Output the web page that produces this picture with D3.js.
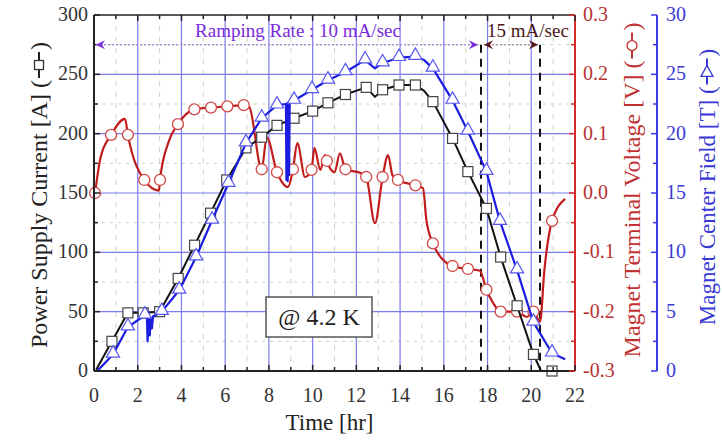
<!DOCTYPE html>
<meta charset="utf-8">
<script src="https://d3js.org/d3.v7.min.js"></script>
<style type="text/css">
body { margin: 0; background: #fff; }
svg { display: block; font-family: "Liberation Serif", "Times New Roman", serif; }
</style>
<body>
</body>
<script>

// current [A] vs time [hr]; third value = marker drawn (1) or not (0)
var currentData = [
  [0.1, 1, 0], [0.82, 25, 1], [1.55, 49, 1], [2.25, 49, 1], [3.0, 50, 1],
  [3.85, 78, 1], [4.6, 106, 1], [5.33, 133, 1], [6.07, 161, 1], [6.95, 188, 1],
  [7.67, 197, 1], [8.37, 207, 1], [9.15, 213, 1], [10.0, 219, 1], [10.7, 226, 1],
  [11.5, 233, 1], [12.45, 239, 1], [12.85, 231, 0], [13.2, 237, 1], [13.95, 241, 1],
  [14.7, 241, 1], [15.1, 236, 0], [15.5, 227, 1], [16.4, 196, 1], [17.1, 168, 1],
  [17.95, 137, 1], [18.6, 96, 1], [19.35, 55, 1], [20.1, 14, 1], [20.45, 0, 0],
  [20.95, 0, 1]
];

// magnet center field [T]
var fieldData = [
  [0.15, 0, 0], [0.87, 1.4, 1], [1.55, 3.7, 1], [2.33, 4.7, 1],
  [2.42, 4.6, 0], [2.45, 2.5, 0], [2.5, 4.4, 0], [2.55, 3.0, 0], [2.6, 4.5, 0], [2.65, 3.6, 0], [2.7, 4.6, 0],
  [3.1, 5.0, 1], [3.9, 6.8, 1], [4.67, 9.6, 1], [5.4, 12.7, 1], [6.15, 15.8, 1],
  [6.95, 19.2, 1], [7.67, 21.3, 1], [8.37, 22.4, 1],
  [8.78, 22.5, 0], [8.8, 16.1, 0], [8.84, 22.6, 0], [8.86, 16.0, 0], [8.9, 22.6, 0], [8.92, 16.5, 0], [8.95, 22.7, 0],
  [9.15, 22.8, 1], [9.97, 23.7, 1], [10.7, 24.5, 1], [11.5, 25.2, 1], [12.4, 26.2, 1],
  [12.85, 25.5, 0], [13.2, 25.95, 1], [13.95, 26.4, 1], [14.7, 26.5, 1], [15.1, 26.2, 0],
  [15.5, 25.5, 1], [16.4, 22.8, 1], [17.1, 20.2, 1], [17.95, 16.8, 1], [18.57, 12.6, 1],
  [19.35, 8.5, 1], [20.1, 4.1, 1], [20.95, 1.5, 1], [21.55, 1.0, 0]
];

// magnet terminal voltage [V]
var voltageData = [
  [0.05, 0.0, 1], [0.3, 0.06, 0], [0.78, 0.098, 1], [1.42, 0.125, 0], [1.55, 0.098, 1],
  [2.3, 0.022, 1], [2.97, 0.004, 0], [3.02, 0.022, 1], [3.4, 0.085, 0], [3.84, 0.116, 1],
  [4.59, 0.141, 1], [5.35, 0.144, 1], [6.1, 0.146, 1], [6.85, 0.148, 1], [7.1, 0.145, 0],
  [7.67, 0.04, 1], [7.9, 0.094, 0], [8.37, 0.035, 1], [8.87, 0.01, 0], [9.1, 0.04, 1],
  [9.3, 0.084, 0], [9.65, 0.027, 0], [9.95, 0.039, 1], [10.08, 0.076, 0], [10.35, 0.039, 0],
  [10.57, 0.064, 0], [10.65, 0.054, 1], [11.0, 0.035, 0], [11.25, 0.067, 0], [11.5, 0.04, 1],
  [12.17, 0.034, 0], [12.45, 0.027, 1], [12.85, -0.051, 0], [13.2, 0.027, 1], [13.45, 0.064, 0],
  [13.65, 0.03, 0], [13.9, 0.022, 1], [14.7, 0.013, 1], [15.05, 0.008, 0], [15.2, -0.045, 0],
  [15.5, -0.085, 1], [15.9, -0.11, 0], [16.4, -0.123, 1], [17.1, -0.128, 1], [17.65, -0.131, 0],
  [17.95, -0.163, 1], [18.25, -0.185, 0], [18.6, -0.2, 1], [19.35, -0.2, 1], [19.8, -0.209, 0],
  [20.1, -0.2, 1], [20.4, -0.217, 0], [20.6, -0.13, 0], [20.95, -0.047, 1], [21.55, -0.01, 0]
];

var xTicks = [0, 2, 4, 6, 8, 10, 12, 14, 16, 18, 20, 22];
var currentTicks = [0, 50, 100, 150, 200, 250, 300];
var voltageTicks = [-0.3, -0.2, -0.1, 0.0, 0.1, 0.2, 0.3];
var fieldTicks = [0, 5, 10, 15, 20, 25, 30];

// ramp rate annotation: boundaries [hr], arrow level [A], labels
var rampBreaks = [0, 17.7, 20.4];
var rampLevel = 275;
var rampLabels = ["Ramping Rate : 10 mA/sec", "15 mA/sec"];
var tempLabel = "@ 4.2 K";

var width = 722, height = 443;
var pL = 94, pR = 575, pT = 15, pB = 371;

var svg = d3.select("body").append("svg")
  .attr("width", width)
  .attr("height", height);

var x = d3.scaleLinear().domain([0, 22]).range([pL, pR]);
var yA = d3.scaleLinear().domain([0, 300]).range([pB, pT]);
var yV = d3.scaleLinear().domain([-0.3, 0.3]).range([pB, pT]);
var yT = d3.scaleLinear().domain([0, 30]).range([pB, pT]);

var RED = "#c21d1d", BLUE = "#1c1ce0", GRID = "#7b7bf0";

// minor grid
var grid = svg.append("g");
grid.selectAll(".vminor").data(d3.range(1, 22, 2)).enter().append("line")
  .attr("x1", d => x(d)).attr("x2", d => x(d))
  .attr("y1", pT).attr("y2", pB)
  .attr("stroke", "#c9d8bd").attr("stroke-dasharray", "5,6").attr("stroke-width", 1);
grid.selectAll(".hminor").data(d3.range(25, 300, 50)).enter().append("line")
  .attr("x1", pL).attr("x2", pR)
  .attr("y1", d => yA(d)).attr("y2", d => yA(d))
  .attr("stroke", "#c9d8bd").attr("stroke-dasharray", "3,5").attr("stroke-width", 1);
// major grid
grid.selectAll(".vmajor").data(xTicks.slice(1, -1)).enter().append("line")
  .attr("x1", d => x(d)).attr("x2", d => x(d))
  .attr("y1", pT).attr("y2", pB)
  .attr("stroke", GRID).attr("stroke-width", 1.2);
grid.selectAll(".hmajor").data(currentTicks.slice(1, -1)).enter().append("line")
  .attr("x1", pL).attr("x2", pR)
  .attr("y1", d => yA(d)).attr("y2", d => yA(d))
  .attr("stroke", GRID).attr("stroke-width", 1.2);

// ramp boundaries
svg.selectAll(".rampLine").data(rampBreaks.slice(1)).enter().append("line")
  .attr("x1", d => x(d)).attr("x2", d => x(d))
  .attr("y1", yA(rampLevel)).attr("y2", pB)
  .attr("stroke", "#111").attr("stroke-width", 2).attr("stroke-dasharray", "8,6");

// series
function drawSeries(data, yScale, lineColor, lineWidth, curve) {
  var line = d3.line().x(d => x(d[0])).y(d => yScale(d[1])).curve(curve);
  svg.append("path").datum(data)
    .attr("d", line)
    .attr("fill", "none")
    .attr("stroke", lineColor)
    .attr("stroke-width", lineWidth)
    .attr("stroke-linejoin", "round");
  return data.filter(d => d[2] === 1);
}

var redMarks = drawSeries(voltageData, yV, RED, 2.2, d3.curveMonotoneX);
svg.selectAll(".vcirc").data(redMarks).enter().append("circle")
  .attr("cx", d => x(d[0])).attr("cy", d => yV(d[1])).attr("r", 5.5)
  .attr("fill", "#fff").attr("stroke", "#d24848").attr("stroke-width", 1.3);

var blackMarks = drawSeries(currentData, yA, "#111", 2, d3.curveLinear);
svg.selectAll(".asq").data(blackMarks).enter().append("rect")
  .attr("x", d => x(d[0]) - 5).attr("y", d => yA(d[1]) - 5)
  .attr("width", 10).attr("height", 10)
  .attr("fill", "#fff").attr("stroke", "#444").attr("stroke-width", 1.2);

var tri = d3.symbol().type(d3.symbolTriangle).size(75);
var blueMarks = drawSeries(fieldData, yT, BLUE, 2.2, d3.curveLinear);
svg.selectAll(".ttri").data(blueMarks).enter().append("path")
  .attr("d", tri)
  .attr("transform", d => "translate(" + x(d[0]) + "," + (yT(d[1]) - 1) + ")")
  .attr("fill", "#fff").attr("stroke", "#5656f0").attr("stroke-width", 1.2);

// frame and axes
svg.append("line").attr("x1", pL).attr("x2", pR).attr("y1", pT).attr("y2", pT)
  .attr("stroke", "#222").attr("stroke-width", 1.5);
svg.append("line").attr("x1", pL).attr("x2", pR).attr("y1", pB).attr("y2", pB)
  .attr("stroke", "#222").attr("stroke-width", 2);
svg.append("line").attr("x1", pL).attr("x2", pL).attr("y1", pT).attr("y2", pB)
  .attr("stroke", "#222").attr("stroke-width", 2);
svg.append("line").attr("x1", pR).attr("x2", pR).attr("y1", pT).attr("y2", pB)
  .attr("stroke", "#d42a2a").attr("stroke-width", 2);
var blueX = 657;
svg.append("line").attr("x1", blueX).attr("x2", blueX).attr("y1", pT).attr("y2", pB)
  .attr("stroke", "#3a3ae6").attr("stroke-width", 2);

// tick marks
var tk = svg.append("g");
d3.range(0, 23, 1).forEach(function(t) {
  var len = t % 2 === 0 ? 6 : 4;
  tk.append("line").attr("x1", x(t)).attr("x2", x(t)).attr("y1", pB).attr("y2", pB - len)
    .attr("stroke", "#222").attr("stroke-width", 1.5);
  tk.append("line").attr("x1", x(t)).attr("x2", x(t)).attr("y1", pT).attr("y2", pT + len)
    .attr("stroke", "#222").attr("stroke-width", 1.5);
});
d3.range(0, 301, 25).forEach(function(v) {
  var len = v % 50 === 0 ? 6 : 4;
  tk.append("line").attr("x1", pL).attr("x2", pL + len).attr("y1", yA(v)).attr("y2", yA(v))
    .attr("stroke", "#222").attr("stroke-width", 1.5);
});
d3.range(-6, 7, 1).forEach(function(i) {
  var len = i % 2 === 0 ? 6 : 4;
  tk.append("line").attr("x1", pR).attr("x2", pR - len).attr("y1", yV(i * 0.05)).attr("y2", yV(i * 0.05))
    .attr("stroke", "#d42a2a").attr("stroke-width", 1.5);
});
d3.range(0, 31, 2.5).forEach(function(v) {
  var len = v % 5 === 0 ? 6 : 4;
  tk.append("line").attr("x1", blueX).attr("x2", blueX - len).attr("y1", yT(v)).attr("y2", yT(v))
    .attr("stroke", "#3a3ae6").attr("stroke-width", 1.5);
});

// tick labels
var tl = svg.append("g").attr("font-size", "20px");
tl.selectAll(".xl").data(xTicks).enter().append("text")
  .attr("x", d => x(d)).attr("y", 402).attr("text-anchor", "middle")
  .attr("fill", "#333").text(d => d);
tl.selectAll(".al").data(currentTicks).enter().append("text")
  .attr("x", pL - 6).attr("y", d => yA(d) + 6).attr("text-anchor", "end")
  .attr("fill", "#333").text(d => d);
tl.selectAll(".vl").data(voltageTicks).enter().append("text")
  .attr("x", pR + 8).attr("y", d => yV(d) + 6)
  .attr("fill", "#b83232").text(d => d3.format(".1f")(d).replace("−", "-"));
tl.selectAll(".tl").data(fieldTicks).enter().append("text")
  .attr("x", blueX + 9).attr("y", d => yT(d) + 6)
  .attr("fill", "#3b3bd2").text(d => d);

// axis titles
svg.append("text").attr("x", (pL + pR) / 2 - 5).attr("y", 430)
  .attr("text-anchor", "middle").attr("font-size", "23px").attr("fill", "#222")
  .text("Time [hr]");

function titleWithGlyph(cx, cy, label, color, markColor, kind, size) {
  var g = svg.append("g").attr("transform", "translate(" + cx + "," + cy + ") rotate(-90)");
  var t = g.append("text").attr("font-size", size + "px").attr("fill", color).text(label + " (");
  var w1 = t.node().getComputedTextLength();
  var gw = 30;
  var t2 = g.append("text").attr("font-size", size + "px").attr("fill", color).text(")");
  var w2 = t2.node().getComputedTextLength();
  var start = -(w1 + gw + w2) / 2;
  t.attr("x", start);
  t2.attr("x", start + w1 + gw);
  var gy = -8;
  g.append("line").attr("x1", start + w1 + 2).attr("x2", start + w1 + gw - 2)
    .attr("y1", gy).attr("y2", gy).attr("stroke", color).attr("stroke-width", 2);
  var mx = start + w1 + gw / 2;
  if (kind === "square") {
    g.append("rect").attr("x", mx - 4.5).attr("y", gy - 4.5).attr("width", 9).attr("height", 9)
      .attr("fill", "#fff").attr("stroke", markColor).attr("stroke-width", 1.3);
  } else if (kind === "circle") {
    g.append("circle").attr("cx", mx).attr("cy", gy).attr("r", 5)
      .attr("fill", "#fff").attr("stroke", markColor).attr("stroke-width", 1.3);
  } else {
    // triangle points up on screen, i.e. along +x in the rotated frame
    g.append("path").attr("d", "M" + (mx + 6) + "," + gy + "L" + (mx - 5) + "," + (gy - 6) + "L" + (mx - 5) + "," + (gy + 6) + "Z")
      .attr("fill", "#fff").attr("stroke", markColor).attr("stroke-width", 1.3);
  }
}
titleWithGlyph(47, 195, "Power Supply Current [A]", "#222", "#333", "square", 24);
titleWithGlyph(640, 190, "Magnet Terminal Voltage [V]", "#c03232", "#c03232", "circle", 24);
titleWithGlyph(715, 187, "Magnet Center Field [T]", "#3838d4", "#3838d4", "triangle", 23);

// ramp rate annotation
var ay = yA(rampLevel);
function arrowHead(tipX, dir, color) {
  svg.append("path")
    .attr("d", "M" + tipX + "," + ay + "L" + (tipX - dir * 9) + "," + (ay - 4.5) +
      "L" + (tipX - dir * 6) + "," + ay + "L" + (tipX - dir * 9) + "," + (ay + 4.5) + "Z")
    .attr("fill", color);
}
svg.append("line").attr("x1", x(rampBreaks[0]) + 2).attr("x2", x(rampBreaks[1]) - 3)
  .attr("y1", ay).attr("y2", ay).attr("stroke", "#a595d8").attr("stroke-width", 1.5)
  .attr("stroke-dasharray", "2,2");
arrowHead(x(rampBreaks[0]) + 2, -1, "#7a2be0");
arrowHead(x(rampBreaks[1]) - 3, 1, "#7a2be0");
svg.append("line").attr("x1", x(rampBreaks[1]) + 3).attr("x2", x(rampBreaks[2]) - 2)
  .attr("y1", ay).attr("y2", ay).attr("stroke", "#b09a9a").attr("stroke-width", 1.5)
  .attr("stroke-dasharray", "2,2");
arrowHead(x(rampBreaks[1]) + 3, -1, "#5a1515");
arrowHead(x(rampBreaks[2]) - 2, 1, "#5a1515");

svg.append("text").attr("x", 298).attr("y", 37).attr("text-anchor", "middle")
  .attr("font-size", "19px").attr("fill", "#7a2be0").text(rampLabels[0]);
svg.append("text").attr("x", 528).attr("y", 37).attr("text-anchor", "middle")
  .attr("font-size", "19px").attr("fill", "#4a1616").text(rampLabels[1]);

// temperature box
var box = svg.append("g");
box.append("rect").attr("x", 266).attr("y", 297).attr("width", 106).attr("height", 40)
  .attr("fill", "#fff").attr("stroke", "#555").attr("stroke-width", 1.5);
box.append("text").attr("x", 319).attr("y", 325).attr("text-anchor", "middle")
  .attr("font-size", "24px").attr("fill", "#222").text(tempLabel);

</script>
